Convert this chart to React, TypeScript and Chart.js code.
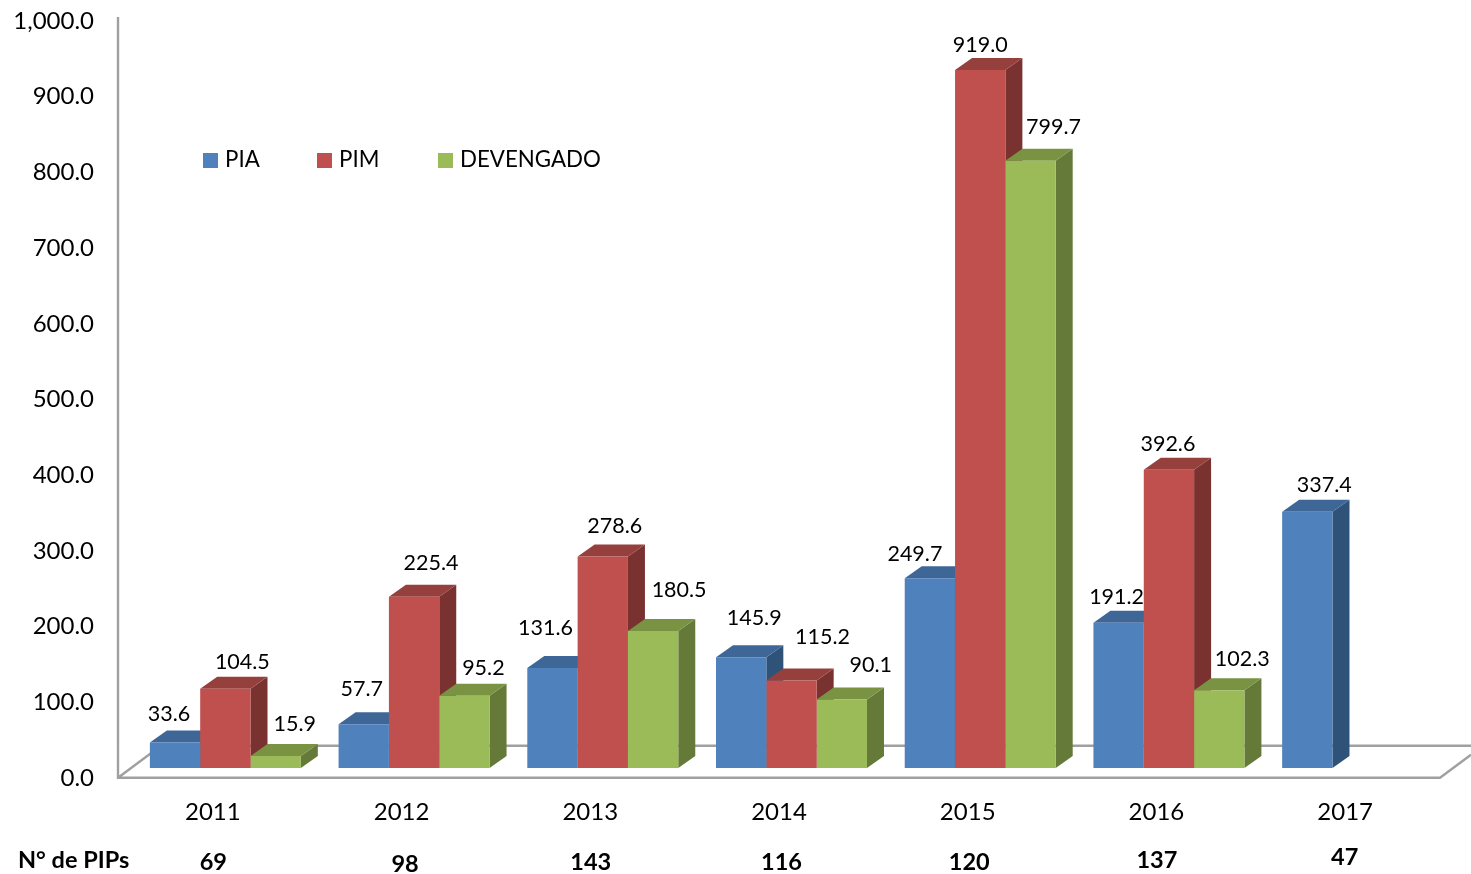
import React, { useEffect, useRef } from "react";
import { Chart, registerables } from "chart.js";

Chart.register(...registerables);

const years = ["2011", "2012", "2013", "2014", "2015", "2016", "2017"];
const pia = [33.6, 57.7, 131.6, 145.9, 249.7, 191.2, 337.4];
const pim = [104.5, 225.4, 278.6, 115.2, 919.0, 392.6, null];
const devengado = [15.9, 95.2, 180.5, 90.1, 799.7, 102.3, null];
const nPips = ["69", "98", "143", "116", "120", "137", "47"];

// Hand placement of the value labels, relative to the top centre of each bar
const piaNudge = [[-6, -28], [-2, -35], [-7, -40], [13, -39], [-15, -24], [-2, -26], [17, -27]];
const pimNudge = [[17, -27], [17, -34], [12, -30], [31, -43], [0, -25], [-1, -26], null];
const devNudge = [[19, -32], [19, -28], [26, -41], [29, -35], [23, -34], [23, -31], null];
const nudges = [piaNudge, pimNudge, devNudge];

// Hand placement of the PIP counts, relative to the year label
const pipNudge = [[1, 51], [4, 53], [1, 51], [3, 51], [2, 51], [1, 49], [0, 46]];

const FONT = "Lato";
const SERIES = [
  { label: "PIA", front: "#4F81BD", top: "#3E6797", side: "#2F5279" },
  { label: "PIM", front: "#C0504D", top: "#96403E", side: "#7A3231" },
  { label: "DEVENGADO", front: "#9BBB59", top: "#799343", side: "#657A39" },
];
const LEGEND_X = [203, 317, 438];
const GREY = "#A0A0A0";
const DX = 17;
const DY = 12;

const depthPlugin = {
  id: "depth",
  beforeDatasetsDraw(chart: any) {
    const { ctx, chartArea: a } = chart;
    const fy = a.bottom + 0.8;
    ctx.save();
    ctx.strokeStyle = GREY;
    ctx.lineWidth = 2.4;
    ctx.beginPath();
    ctx.moveTo(118, a.top - 3);
    ctx.lineTo(118, fy);
    ctx.lineTo(1440, fy);
    ctx.lineTo(1471, fy - 23);
    ctx.moveTo(118, fy);
    ctx.lineTo(161, fy - 32);
    ctx.lineTo(1471, fy - 32);
    ctx.stroke();
    const poly = (pts: number[][], color: string) => {
      ctx.fillStyle = color;
      ctx.beginPath();
      pts.forEach(([x, y], i) => (i ? ctx.lineTo(x, y) : ctx.moveTo(x, y)));
      ctx.closePath();
      ctx.fill();
    };
    years.forEach((_, i) => {
      SERIES.forEach((s, d) => {
        const el: any = chart.getDatasetMeta(d).data[i];
        if (!el || el.skip || chart.data.datasets[d].data[i] == null) return;
        const l = el.x - el.width / 2;
        const r = el.x + el.width / 2;
        poly([[r, el.y], [r + DX, el.y - DY], [r + DX, el.base - DY], [r, el.base]], s.side);
        poly([[l, el.y], [l + DX, el.y - DY], [r + DX, el.y - DY], [r, el.y]], s.top);
      });
    });
    ctx.restore();
  },
  afterDatasetsDraw(chart: any) {
    const { ctx } = chart;
    ctx.save();
    ctx.fillStyle = "#000";
    ctx.textAlign = "center";
    ctx.textBaseline = "middle";
    ctx.font = `21.5px ${FONT}`;
    SERIES.forEach((_, d) => {
      chart.getDatasetMeta(d).data.forEach((el: any, i: number) => {
        const v = chart.data.datasets[d].data[i];
        const n = nudges[d][i];
        if (v == null || !n) return;
        ctx.fillText(v.toFixed(1), el.x + n[0], el.y + n[1]);
      });
    });
    // legend
    ctx.textAlign = "left";
    ctx.font = `22.3px ${FONT}`;
    SERIES.forEach((s, d) => {
      ctx.fillStyle = s.front;
      ctx.fillRect(LEGEND_X[d], 153, 15, 15);
      ctx.fillStyle = "#000";
      ctx.fillText(s.label, LEGEND_X[d] + 22, 160);
    });
    // PIP row
    ctx.font = `bold 23.5px ${FONT}`;
    ctx.fillText("N° de PIPs", 18, 860);
    ctx.textAlign = "center";
    const xs = chart.scales.x;
    const yearY = 811;
    nPips.forEach((p, i) => {
      const x = xs.getPixelForValue(i) - 13;
      ctx.fillText(p, x + pipNudge[i][0], yearY + pipNudge[i][1]);
    });
    ctx.restore();
  },
};

export default function App() {
  const ref = useRef<HTMLCanvasElement>(null);
  useEffect(() => {
    const chart = new Chart(ref.current as any, {
      type: "bar",
      data: {
        labels: years,
        datasets: [
          { label: SERIES[0].label, data: pia, backgroundColor: SERIES[0].front, yAxisID: "yBars" },
          { label: SERIES[1].label, data: pim, backgroundColor: SERIES[1].front, yAxisID: "yBars" },
          { label: SERIES[2].label, data: devengado, backgroundColor: SERIES[2].front, yAxisID: "yBars" },
        ],
      },
      options: {
        animation: false,
        responsive: false,
        layout: { padding: { top: 20, right: 19, left: 0, bottom: 0 } },
        plugins: { legend: { display: false }, tooltip: { enabled: false } },
        datasets: { bar: { categoryPercentage: 0.8, barPercentage: 1, skipNull: false } },
        scales: {
          x: {
            grid: { display: false, drawTicks: false },
            border: { display: false },
            afterFit: (s: any) => { s.height = 97; s.paddingLeft = 0; s.paddingRight = 0; },
            ticks: {
              color: "#000",
              font: { family: FONT, size: 24 },
              padding: 21,
              labelOffset: -12.5,
              maxRotation: 0,
              autoSkip: false,
            },
          },
          y: {
            position: "left",
            min: 0,
            max: 1000,
            grid: { display: false, drawTicks: false },
            border: { display: false },
            afterFit: (s: any) => { s.width = 131; s.paddingTop = 0; s.paddingBottom = 0; },
            ticks: {
              stepSize: 100,
              color: "#000",
              font: { family: FONT, size: 24 },
              padding: 37,
              labelOffset: 1,
              autoSkip: false,
              callback: (v: any) =>
                Number(v).toLocaleString("en-US", { minimumFractionDigits: 1, maximumFractionDigits: 1 }),
            },
          },
          yBars: { display: false, min: -11.85, max: 984.9 },
        },
      } as any,
      plugins: [depthPlugin],
    });
    return () => chart.destroy();
  }, []);
  return (
    <canvas
      ref={ref}
      width={1471}
      height={874}
      style={{ position: "absolute", left: 0, top: 0, display: "block", background: "#fff" }}
    />
  );
}
